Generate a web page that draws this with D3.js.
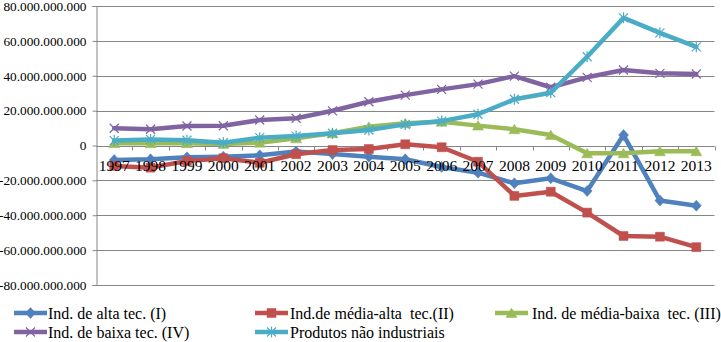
<!DOCTYPE html>
<html>
<head>
<meta charset="utf-8">
<script src="https://cdn.jsdelivr.net/npm/d3@7/dist/d3.min.js"></script>
<style>
  body { margin: 0; background: #fff; }
  svg { display: block; }
  svg text { font-family: "Liberation Serif", "Times New Roman", serif; }
</style>
</head>
<body>
<svg id="chart" width="721" height="342"></svg>
<script>
// Trade balance by technology intensity, 1997–2013 (values in billions)
const years = ["1997","1998","1999","2000","2001","2002","2003","2004","2005",
               "2006","2007","2008","2009","2010","2011","2012","2013"];
const altaTec      = [-8.3,-7.9,-6.8,-6.4,-5.6,-3.5,-4.9,-6.4,-7.9,-12.3,-15.6,-21.7,-18.8,-26.1,6.0,-31.6,-34.5];
const mediaAltaTec = [-11.7,-12.7,-8.9,-7.3,-9.9,-5.0,-2.6,-2.0,0.7,-1.0,-9.3,-28.9,-26.5,-38.5,-51.9,-52.3,-58.3];
const mediaBaixaTec= [1.3,1.3,1.3,0.9,1.6,4.1,7.0,10.8,12.7,13.6,11.4,9.3,6.0,-4.5,-4.5,-3.3,-3.3];
const baixaTec     = [9.9,9.3,11.2,11.3,14.6,15.6,19.9,25.1,28.9,32.2,35.2,39.8,33.4,39.1,43.3,41.4,41.0];
const naoIndustriais=[2.8,3.5,3.0,1.6,4.5,5.4,7.0,8.9,12.1,14.0,17.9,26.5,30.3,50.9,73.2,64.6,56.6];
const seriesNames = ["Ind. de alta tec. (I)", "Ind.de média-alta  tec.(II)", "Ind. de média-baixa  tec. (III)",
                     "Ind. de baixa tec. (IV)", "Produtos não industriais"];
const yTicks = [-80,-60,-40,-20,0,20,40,60,80];

const series = [
  { name: seriesNames[0], values: altaTec,       color: "#4F81BD", marker: "diamond" },
  { name: seriesNames[1], values: mediaAltaTec,  color: "#C0504D", marker: "square" },
  { name: seriesNames[2], values: mediaBaixaTec, color: "#9BBB59", marker: "triangle" },
  { name: seriesNames[3], values: baixaTec,      color: "#8064A2", marker: "x" },
  { name: seriesNames[4], values: naoIndustriais,color: "#4BACC6", marker: "star" }
];

const svg = d3.select("#chart");
const plot = { left: 96, right: 714.5, top: 6, bottom: 285 };

const x = d3.scaleBand().domain(years).range([plot.left, plot.right]).padding(0);
const y = d3.scaleLinear().domain([-80, 80]).range([plot.bottom, plot.top]);

const locale = d3.formatLocale({ decimal: ",", thousands: ".", grouping: [3], currency: ["", ""], minus: "-" });
const fmt = locale.format(",d");

const grid = "#868686";
const serif = '"Liberation Serif", "Times New Roman", serif';

// horizontal gridlines
svg.append("g").selectAll("line").data(yTicks).join("line")
  .attr("x1", plot.left).attr("x2", plot.right)
  .attr("y1", d => Math.round(y(d)) + 0.5).attr("y2", d => Math.round(y(d)) + 0.5)
  .attr("stroke", grid).attr("stroke-width", 1);

// value axis
const yAxis = d3.axisLeft(y).tickValues(yTicks).tickSize(4).tickPadding(6)
  .tickFormat(d => fmt(d * 1e9));
const gy = svg.append("g").attr("transform", `translate(${plot.left + 0.5},0)`).call(yAxis);
gy.attr("font-family", null);
gy.select(".domain").attr("stroke", grid);
gy.selectAll(".tick line").attr("stroke", grid);
gy.selectAll(".tick text")
  .style("font-family", serif)
  .style("font-size", "13.3px").attr("fill", "#000");

// category axis line through zero with ticks between categories
const y0 = Math.round(y(0)) + 0.5;
svg.append("line").attr("x1", plot.left).attr("x2", plot.right).attr("y1", y0).attr("y2", y0)
  .attr("stroke", grid);
svg.append("g").selectAll("line").data(years).join("line")
  .attr("x1", d => Math.round(x(d) + x.bandwidth()) + 0.5)
  .attr("x2", d => Math.round(x(d) + x.bandwidth()) + 0.5)
  .attr("y1", y0).attr("y2", y0 + 4)
  .attr("stroke", grid);

// marker shapes
function markerPath(type) {
  switch (type) {
    case "diamond": return "M0,-5.5L5,0L0,5.5L-5,0Z";
    case "square": return "M-4.5,-4.5H4.5V4.5H-4.5Z";
    case "triangle": return "M0,-5L5.5,4.5H-5.5Z";
    case "x": return "M-4.5,-4.5L4.5,4.5M-4.5,4.5L4.5,-4.5";
    case "star": return "M-4.5,-4.5L4.5,4.5M-4.5,4.5L4.5,-4.5M0,-5.5V5.5";
  }
}
function drawMarker(g, s, cx, cy) {
  const open = s.marker === "x" || s.marker === "star";
  g.append("path").attr("d", markerPath(s.marker))
    .attr("transform", `translate(${cx},${cy})`)
    .attr("fill", open ? "none" : s.color)
    .attr("stroke", s.color)
    .attr("stroke-width", open ? 1.2 : 0.5);
}

const line = d3.line()
  .x((d, i) => x(years[i]) + x.bandwidth() / 2)
  .y(d => y(d));

series.forEach(s => {
  const g = svg.append("g");
  g.append("path").datum(s.values).attr("d", line)
    .attr("fill", "none").attr("stroke", s.color)
    .attr("stroke-width", 4.5).attr("stroke-linejoin", "round").attr("stroke-linecap", "round");
  s.values.forEach((v, i) => drawMarker(g, s, x(years[i]) + x.bandwidth() / 2, y(v)));
});

// category labels, drawn above the series
const xAxis = d3.axisBottom(x).tickSize(0).tickPadding(0);
const gx = svg.append("g").attr("transform", `translate(0,${y0})`).call(xAxis);
gx.attr("font-family", null);
gx.select(".domain").remove();
gx.selectAll(".tick text")
  .style("font-family", serif)
  .style("font-size", "15.5px").attr("fill", "#000")
  .attr("y", 24.5).attr("dy", 0);

// legend
const legendPos = [
  { lx: 14, tx: 48, cy: 313 }, { lx: 255, tx: 290, cy: 313 }, { lx: 495, tx: 532, cy: 313 },
  { lx: 14, tx: 48, cy: 332 }, { lx: 255, tx: 290, cy: 332 }
];
series.forEach((s, i) => {
  const p = legendPos[i];
  const g = svg.append("g");
  g.append("line").attr("x1", p.lx).attr("x2", p.lx + 33).attr("y1", p.cy).attr("y2", p.cy)
    .attr("stroke", s.color).attr("stroke-width", 4.5);
  drawMarker(g, s, p.lx + 16.5, p.cy);
  g.append("text").attr("x", p.tx).attr("y", p.cy).attr("dy", "0.35em")
    .style("font-family", serif)
    .style("font-size", "16px").attr("fill", "#000")
    .style("white-space", "pre")
    .text(s.name);
});
</script>
</body>
</html>
